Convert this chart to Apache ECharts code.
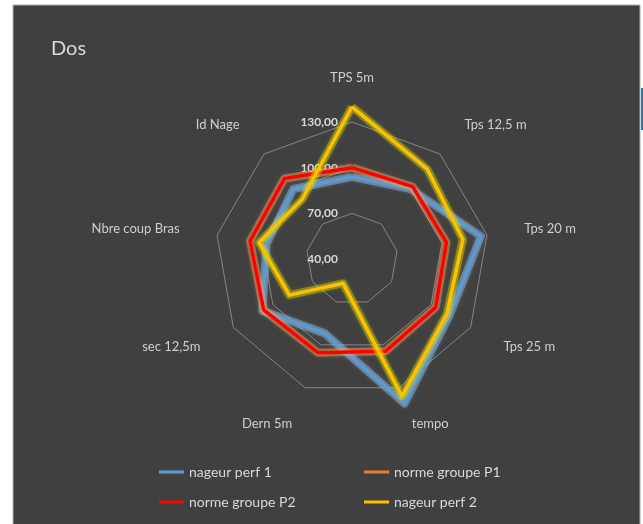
<!DOCTYPE html>
<html><head><meta charset="utf-8">
<script src="https://cdn.jsdelivr.net/npm/echarts@6/dist/echarts.min.js"></script>
<style>html,body{margin:0;padding:0;background:#fff;}#c{width:643px;height:524px;}</style>
</head><body><div id="c"></div>
<script>
// ---- data (clockwise from top) ----
const categories = ['TPS 5m','Tps 12,5 m','Tps 20 m','Tps 25 m','tempo','Dern 5m','sec 12,5m','Nbre coup Bras','Id Nage'];
const nageurPerf1   = [94, 100, 126, 114, 141, 92, 108, 97, 100];
const normeGroupeP1 = [100, 102, 103, 103.5, 104.5, 105.5, 107, 108, 109];
const normeGroupeP2 = [100, 102, 103, 103.5, 104.5, 105.5, 107, 108, 109];
const nageurPerf2   = [140, 117, 114, 112, 136, 57, 87.5, 102, 91];
const seriesNames = ['nageur perf 1','norme groupe P1','norme groupe P2','nageur perf 2'];
const axisMin = 40, axisMax = 130, axisSplits = 3;

// ECharts radar runs counter-clockwise: reorder to draw clockwise
const order = categories.map((_, i) => (categories.length - i) % categories.length);
const reorder = arr => order.map(i => arr[i]);

const colors = ['#5B9BD5','#ED7D31','#FF0000','#FFC000'];
const glows  = ['rgba(150,190,228,0.45)','rgba(240,160,100,0.45)','rgba(255,60,40,0.0)','rgba(235,235,0,0.38)'];
const values = [nageurPerf1, normeGroupeP1, normeGroupeP2, nageurPerf2];

const series = [];
values.forEach((arr, s) => {
  const gl = {width:8, color:glows[s], shadowBlur:4, shadowColor:glows[s]};
  series.push({
    type:'radar', silent:true, symbol:'none', lineStyle:gl,
    data:[{value:reorder(arr), name:'glow'+s, lineStyle:gl, itemStyle:{color:glows[s]}}]
  });
  series.push({
    type:'radar', symbol:'none',
    data:[{value:reorder(arr), name:seriesNames[s], lineStyle:{width:3.5, color:colors[s]}, itemStyle:{color:colors[s]}}]
  });
});

const font = 'Lato, "Open Sans", sans-serif';
const legendPos = [[159,465],[364,465],[159,495],[364,495]];
const legends = seriesNames.map((n, i) => ({
  data:[n], left:legendPos[i][0], top:legendPos[i][1], padding:0,
  icon:'rect', itemWidth:25, itemHeight:3,
  textStyle:{color:'#d9d9d9', fontSize:14, fontFamily:font}
}));

const chart = echarts.init(document.getElementById('c'));
chart.setOption({
  backgroundColor:'#ffffff',
  animation:false,
  graphic:{elements:[
    {type:'rect', z:-100, silent:true, shape:{x:13, y:5, width:627, height:520}, style:{fill:'#404040', stroke:'#b0b0b0', lineWidth:1}},
    {type:'rect', z:-99, silent:true, shape:{x:641, y:88, width:2, height:42}, style:{fill:'#2E75B6'}}
  ]},
  title:{text:'Dos', left:51, top:39, padding:0, textStyle:{color:'#d9d9d9', fontSize:20, fontWeight:'normal', fontFamily:font}},
  legend:legends,
  radar:{
    center:[352,259], radius:137, startAngle:90, splitNumber:axisSplits, shape:'polygon',
    indicator: order.map((i, k) => {
      const ind = {name:categories[i], min:axisMin, max:axisMax};
      if (k === 0) ind.axisLabel = {show:true};
      return ind;
    }),
    nameGap:38,
    axisName:{color:'#cfcfcf', fontSize:13, fontFamily:font},
    axisLine:{show:false}, axisTick:{show:false},
    axisLabel:{show:false, color:'#d9d9d9', fontWeight:'bold', fontSize:12, fontFamily:font, margin:14,
      formatter: v => Number(v).toFixed(2).replace('.', ',')},
    splitLine:{lineStyle:{color:'#858585', width:1}},
    splitArea:{show:false}
  },
  series:series
});
</script></body></html>
